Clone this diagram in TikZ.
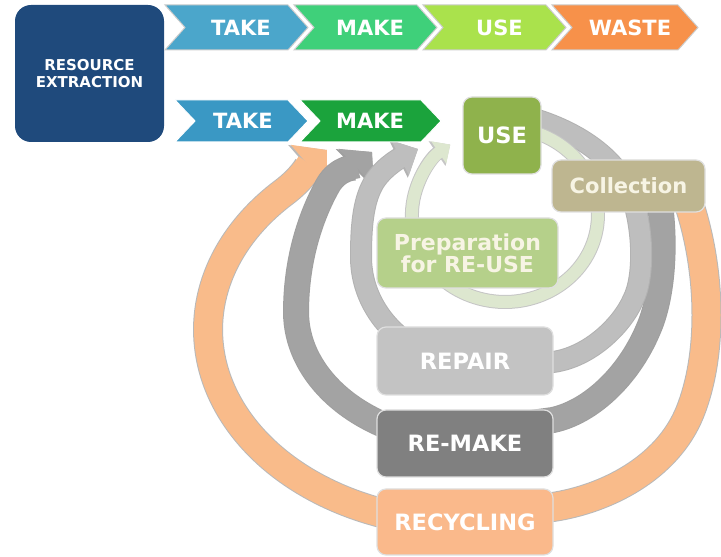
\documentclass[tikz,border=0pt]{standalone}
\usepackage{fontspec}
\setmainfont{DejaVu Sans}
\usetikzlibrary{arrows.meta}

\definecolor{resblue}{HTML}{1F4A7C}
\definecolor{taketop}{HTML}{4BA6CB}
\definecolor{maketop}{HTML}{3FD07A}
\definecolor{usetop}{HTML}{AAE24C}
\definecolor{wastetop}{HTML}{F7914A}
\definecolor{takebot}{HTML}{3A98C4}
\definecolor{makebot}{HTML}{1BA33C}
\definecolor{usebg}{HTML}{8FB24C}
\definecolor{collbg}{HTML}{BEB690}
\definecolor{prepbg}{HTML}{B5D08A}
\definecolor{repairbg}{HTML}{C3C3C3}
\definecolor{remakebg}{HTML}{808080}
\definecolor{recycbg}{HTML}{FAB98B}
\definecolor{ringorange}{HTML}{F9BB8A}
\definecolor{ringdark}{HTML}{A3A3A3}
\definecolor{ringlight}{HTML}{BEBEBE}
\definecolor{ringgreen}{HTML}{DDE7CF}
\definecolor{cream}{HTML}{F7F4E4}

% left x, tip x, middle y, half height, fill, edge
\newcommand{\chevron}[6]{%
  \path[fill=#5, draw=#6, line width=1pt]
    (#1,#3+#4) -- (#2-20,#3+#4) -- (#2,#3) -- (#2-20,#3-#4) -- (#1,#3-#4) -- (#1+20,#3) -- cycle;
}

% band, head width, head length, fill, edge, path
\newcommand{\ring}[6]{%
  \pgfmathsetmacro\bandout{#1+2}
  \pgfmathsetmacro\headout{#2+3}
  \pgfmathsetmacro\lenout{#3+2}
  \draw[line width=\bandout pt, #5, -{Triangle[width=\headout pt, length=\lenout pt]}] #6;
  \draw[line width=#1pt, #4, -{Triangle[width=#2pt, length=#3pt]}] #6;
}

\begin{document}
\begin{tikzpicture}[x=1pt, y=1pt,
    txt/.style={text=white, font=\bfseries\fontsize{21}{22}\selectfont, align=center},
    big/.style={text=white, font=\bfseries\fontsize{22.5}{24}\selectfont},
    box/.style={rounded corners=9pt, draw=white!75!gray, line width=1.2pt}]
\useasboundingbox (0,0) rectangle (721,557);

% loops back into the chain
\ring{28}{54}{24}{ringorange}{gray!55}{(678,385) -- (690,350) .. controls (712,280) and (712,200) .. (690,145)
  .. controls (667,88) and (605,58) .. (553,50) -- (377.8,45)
  arc[start angle=250, end angle=135, x radius=258, y radius=194] to[out=37, in=221] (327,407)}
\ring{24}{50}{22}{ringdark}{gray!75}{(655,380) .. controls (667,330) and (665,265) .. (648,227)
  .. controls (628,180) and (590,145) .. (553,137) -- (425,119.4)
  arc[start angle=255, end angle=180, x radius=174, y radius=130]
  arc[start angle=180, end angle=145, x radius=174, y radius=220] to[out=61, in=224] (372,405)}
\ring{20}{38}{20}{ringlight}{gray!60}{(515,443) .. controls (565,432) and (615,405) .. (632,360)
  .. controls (643,330) and (645,280) .. (633,257) .. controls (622,232) and (590,200) .. (553,195) -- (420.5,206.5)
  arc[start angle=240, end angle=180, x radius=119, y radius=108]
  .. controls (361,330) and (363,355) .. (373,373) .. controls (382,389) and (400,399) .. (418,408)}
\ring{12}{26}{14}{ringgreen}{gray!45}{(521.1,427.7) arc[start angle=80, end angle=-234, x radius=93, y radius=87]}

% linear chain
\node[rounded corners=16pt, fill=resblue, minimum width=149pt, minimum height=137pt,
  text=white, font=\bfseries\fontsize{15}{17}\selectfont, align=center] (res) at (89.5,483.5) {RESOURCE\\EXTRACTION};
\chevron{165}{308}{529.5}{22.5}{taketop}{gray!40}
\chevron{294}{437}{529.5}{22.5}{maketop}{gray!40}
\chevron{423}{566}{529.5}{22.5}{usetop}{gray!40}
\chevron{552}{698}{529.5}{22.5}{wastetop}{gray!40}
\node[txt] (take1) at (241,529.5) {TAKE};
\node[txt] (make1) at (370,529.5) {MAKE};
\node[txt] (use1) at (499.5,529.5) {USE};
\node[txt] (waste1) at (630,529.5) {WASTE};

% circular chain
\chevron{175}{308}{436}{21}{takebot}{white}
\chevron{300}{441}{436}{21}{makebot}{white}
\node[txt] (take2) at (243,436) {TAKE};
\node[txt] (make2) at (370,436) {MAKE};
\node[box, fill=usebg, minimum width=78pt, minimum height=77pt, big] (use2) at (502,421.5) {USE};
\node[box, fill=collbg, minimum width=153pt, minimum height=52pt, txt, text=cream] (coll) at (628.5,371) {Collection};
\node[box, fill=prepbg, minimum width=181pt, minimum height=70pt, txt, text=cream,
  font=\bfseries\fontsize{22}{22}\selectfont] (prep) at (467.5,304) {Preparation\\for RE-USE};
\node[box, fill=repairbg, minimum width=176pt, minimum height=68pt, big] (repair) at (465,196) {REPAIR};
\node[box, fill=remakebg, minimum width=176pt, minimum height=67pt, big] (remake) at (465,113.5) {RE-MAKE};
\node[box, fill=recycbg, minimum width=176pt, minimum height=66pt, big] (recyc) at (465,35) {RECYCLING};
\end{tikzpicture}
\end{document}
